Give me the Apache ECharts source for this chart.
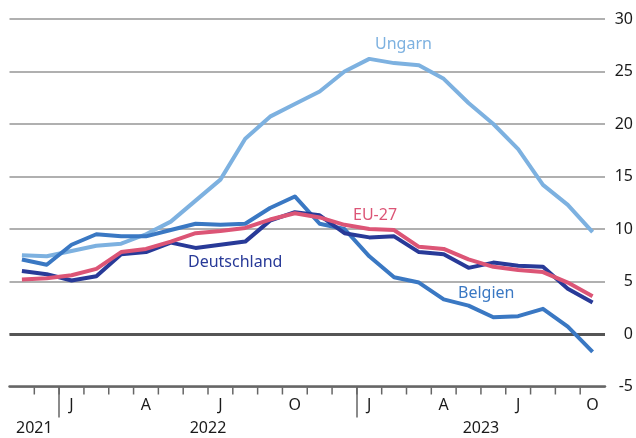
<!DOCTYPE html>
<html><head><meta charset="utf-8">
<script src="https://cdn.jsdelivr.net/npm/echarts@6/dist/echarts.min.js"></script>
<style>html,body{margin:0;padding:0;background:#fff}#c{width:636px;height:438px}</style>
</head><body><div id="c"></div>
<script>
// Months Nov 2021 .. Oct 2023
const months = ['2021-11','2021-12','2022-01','2022-02','2022-03','2022-04','2022-05','2022-06','2022-07','2022-08','2022-09','2022-10','2022-11','2022-12','2023-01','2023-02','2023-03','2023-04','2023-05','2023-06','2023-07','2023-08','2023-09','2023-10'];
const monthLabels = ['','','J','','','A','','','J','','','O','','','J','','','A','','','J','','','O'];
// Labels placed at month boundaries (25 boundaries for 24 months)
const yearLabels = ['','2021','','','','','','','2022','','','','','','','','','','','2023','','','','',''];
const yearStartBoundaries = [2, 14];

const ungarn      = [7.5,7.4,7.9,8.4,8.6,9.5,10.7,12.7,14.7,18.6,20.7,21.9,23.1,25.0,26.2,25.8,25.6,24.3,22.0,20.0,17.6,14.2,12.3,9.7];
const belgien     = [7.1,6.6,8.5,9.5,9.3,9.3,9.9,10.5,10.4,10.5,12.0,13.1,10.5,10.0,7.4,5.4,4.9,3.3,2.7,1.6,1.7,2.4,0.7,-1.7];
const deutschland = [6.0,5.7,5.1,5.5,7.6,7.8,8.7,8.2,8.5,8.8,10.8,11.6,11.3,9.6,9.2,9.3,7.8,7.6,6.3,6.8,6.5,6.4,4.3,3.0];
const eu27        = [5.2,5.3,5.6,6.2,7.8,8.1,8.8,9.6,9.8,10.1,10.9,11.5,11.1,10.4,10.0,9.9,8.3,8.1,7.1,6.4,6.1,5.9,4.9,3.6];
const yTicks = {min:-5, max:30, interval:5};

const boundaries = yearLabels.map((_, i) => 'b' + i);
const FONT = 'Noto Sans';
const C = {ungarn:'#7db1e0', belgien:'#3a78c3', deutschland:'#283a98', eu:'#dc5576'};
const grid = {left:9.5, right:30, top:19, bottom:51.5};

const chart = echarts.init(document.getElementById('c'), null, {renderer:'canvas'});
const line = (name, data, color, z) => ({
  name, type:'line', data, xAxisIndex:0, yAxisIndex:0, symbol:'none', z,
  lineStyle:{color, width:4, join:'round'}, itemStyle:{color}, animation:false
});
const labelFont = '16px "Noto Sans"';
chart.setOption({
  animation:false,
  backgroundColor:'#fff',
  textStyle:{fontFamily:FONT},
  grid,
  xAxis:[
    {type:'category', data:months, boundaryGap:true,
     axisLine:{show:true, onZero:false, lineStyle:{color:'#666', width:2.5}},
     axisTick:{show:false},
     axisLabel:{interval:0, margin:11, fontSize:16, color:'#1a1a1a', fontFamily:FONT,
       formatter:(v, i) => monthLabels[i]},
     splitLine:{show:false}},
    {type:'category', data:boundaries, boundaryGap:false, position:'bottom',
     axisLine:{show:false, onZero:false}, axisTick:{show:false},
     axisLabel:{interval:0, margin:34, fontSize:16, color:'#1a1a1a', fontFamily:FONT,
       formatter:(v, i) => yearLabels[i]},
     splitLine:{show:false}},
    {type:'category', data:boundaries, boundaryGap:false, position:'bottom',
     axisLine:{show:false, onZero:false},
     axisTick:{show:true, length:31, interval:(i) => yearStartBoundaries.includes(i),
       lineStyle:{color:'#666', width:1.5}},
     axisLabel:{show:false}, splitLine:{show:false}}
  ],
  yAxis:{type:'value', position:'right', min:yTicks.min, max:yTicks.max, interval:yTicks.interval,
    axisLine:{show:false}, axisTick:{show:false},
    axisLabel:{margin:28, align:'right', fontSize:16, color:'#1a1a1a', fontFamily:FONT},
    splitLine:{show:true, lineStyle:{color:'#b0b0b0', width:2}}},
  series:[
    Object.assign(line('Ungarn', ungarn, C.ungarn, 2), {
      markLine:{silent:true, symbol:'none', label:{show:false},
        lineStyle:{color:'#555', width:3, type:'solid'}, data:[{yAxis:0}], z:1}
    }),
    line('Belgien', belgien, C.belgien, 3),
    line('Deutschland', deutschland, C.deutschland, 4),
    line('EU-27', eu27, C.eu, 5)
  ],
  graphic:[
    {id:'lblU', type:'text', left:375, top:36, style:{text:'Ungarn', fill:C.ungarn, font:labelFont}},
    {id:'lblE', type:'text', left:353, top:207, style:{text:'EU-27', fill:C.eu, font:labelFont}},
    {id:'lblB', type:'text', left:458, top:285, style:{text:'Belgien', fill:C.belgien, font:labelFont}},
    {id:'lblD', type:'text', left:188, top:254, style:{text:'Deutschland', fill:C.deutschland, font:labelFont}}
  ]
});

// Month ticks at the inner month boundaries, placed through the boundary axis scale
const axisYpx = chart.convertToPixel({yAxisIndex:0}, yTicks.min);
const tickEls = [];
for (let k = 1; k < boundaries.length - 1; k++) {
  const x = chart.convertToPixel({xAxisIndex:2}, k);
  tickEls.push({id:'tick' + k, type:'line', z:100, silent:true,
    shape:{x1:x, y1:axisYpx + 1, x2:x, y2:axisYpx + 8},
    style:{stroke:'#666', lineWidth:1.5}});
}
chart.setOption({graphic:tickEls});
</script></body></html>
